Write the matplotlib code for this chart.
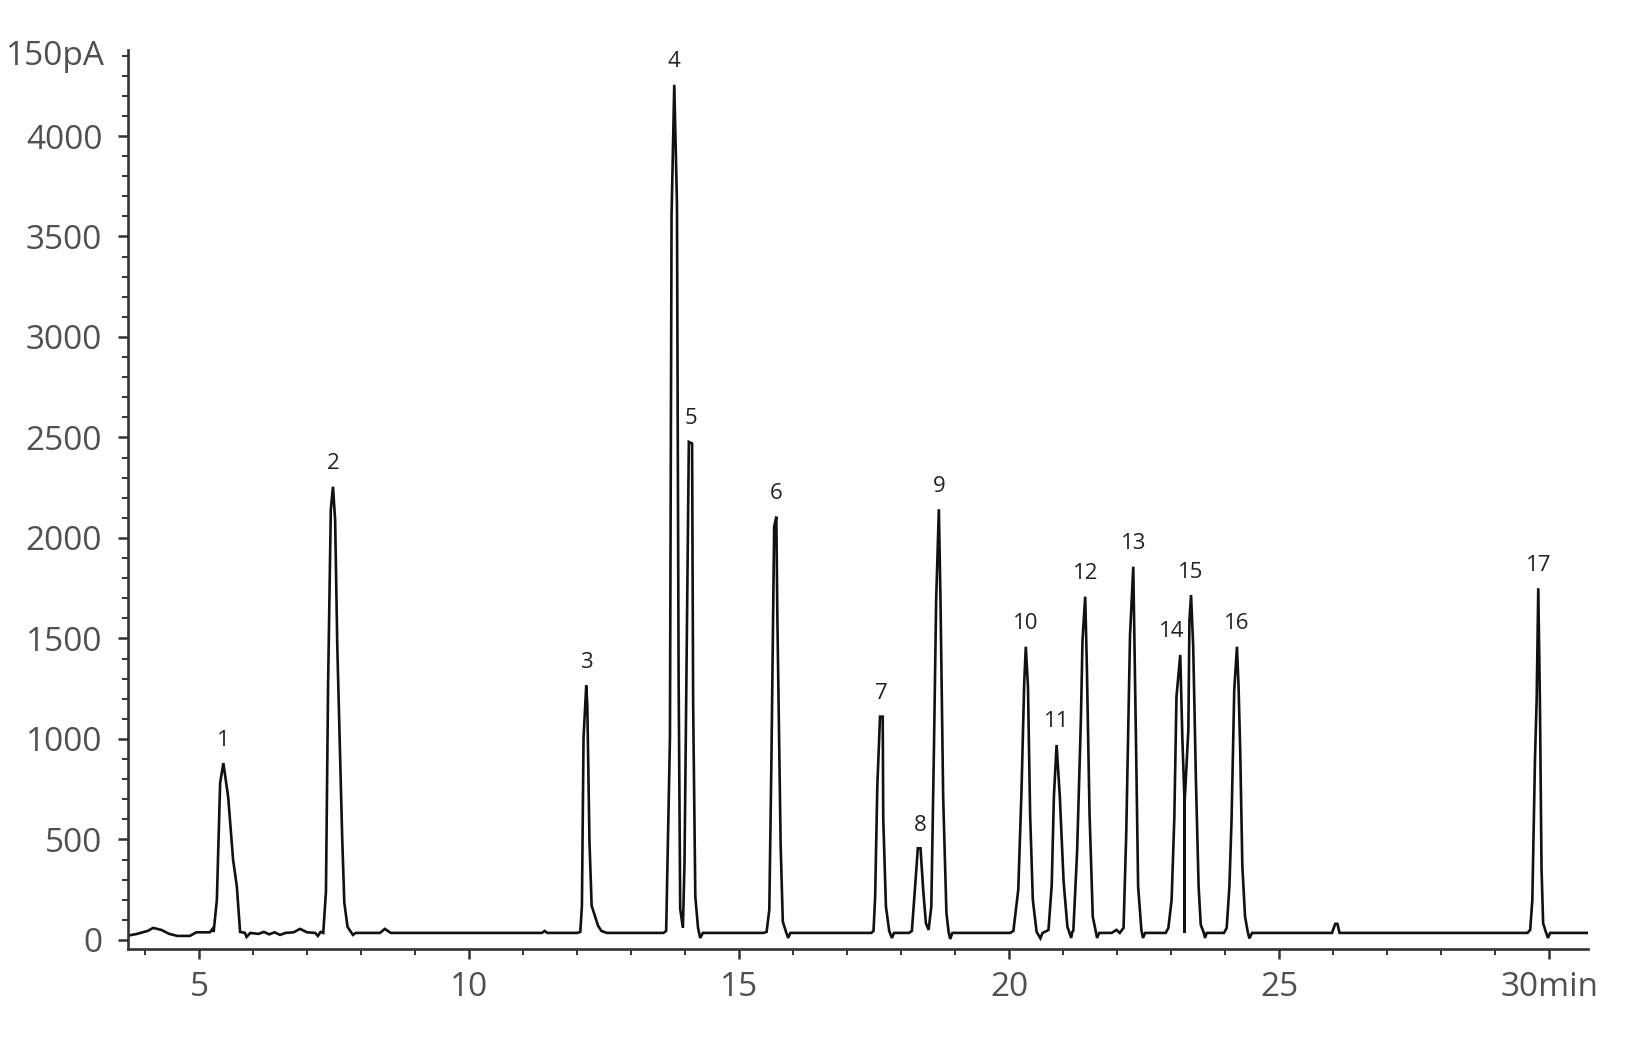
import numpy as np
import matplotlib
matplotlib.use('Agg')
import matplotlib.pyplot as plt
import matplotlib.ticker as ticker

#
# Data
#

# detector trace, time in min and signal in the axis' units
trace_min = [
    3.69, 3.85, 4.05, 4.15, 4.30, 4.45, 4.60, 4.83, 4.95, 5.20, 5.25,
    # peak 1
    5.27, 5.33, 5.39, 5.45, 5.54, 5.63, 5.70, 5.76, 5.85, 5.88, 5.95,
    6.10, 6.20, 6.30, 6.40, 6.50, 6.60, 6.75, 6.87, 7.00, 7.15, 7.20, 7.25,
    # peak 2
    7.30, 7.35, 7.39, 7.44, 7.48, 7.52, 7.56, 7.61, 7.65, 7.69, 7.75, 7.80, 7.85, 7.90,
    8.35, 8.44, 8.55, 11.35, 11.40, 11.45, 12.00,
    # peak 3
    12.06, 12.09, 12.12, 12.17, 12.19, 12.23, 12.27, 12.39, 12.45, 12.55, 13.60,
    # peaks 4 and 5
    13.65, 13.72, 13.75, 13.80, 13.85, 13.88, 13.91, 13.96, 13.99, 14.03, 14.07,
    14.13, 14.15, 14.19, 14.24, 14.28, 14.33, 15.45,
    # peak 6
    15.51, 15.56, 15.60, 15.65, 15.69, 15.71, 15.77, 15.81, 15.87, 15.91, 15.95, 17.45,
    # peak 7
    17.49, 17.52, 17.56, 17.61, 17.66, 17.67, 17.72, 17.78, 17.83, 17.87, 18.15,
    # peaks 8 and 9
    18.20, 18.26, 18.31, 18.36, 18.41, 18.46, 18.51, 18.56, 18.61, 18.65, 18.70,
    18.73, 18.78, 18.84, 18.88, 18.91, 18.95, 20.02,
    # peaks 10, 11, 12
    20.08, 20.17, 20.23, 20.28, 20.31, 20.35, 20.39, 20.44, 20.51, 20.58, 20.62, 20.70,
    20.73, 20.79, 20.83, 20.88, 20.94, 21.01, 21.08, 21.15, 21.17,
    21.19, 21.26, 21.33, 21.36, 21.41, 21.44, 21.49, 21.55, 21.60, 21.63, 21.67,
    21.90, 21.99, 22.05,
    # peak 13
    22.12, 22.17, 22.24, 22.30, 22.35, 22.39, 22.45, 22.48, 22.52, 22.90,
    # peaks 14 and 15
    22.95, 23.01, 23.06, 23.10, 23.17, 23.21, 23.25, 23.25, 23.25, 23.32, 23.34,
    23.37, 23.41, 23.46, 23.51, 23.55, 23.60, 23.63, 23.66, 23.98,
    # peak 16
    24.03, 24.08, 24.12, 24.17, 24.22, 24.25, 24.28, 24.32, 24.37, 24.42, 24.45, 24.50,
    25.98, 26.04, 26.08, 26.12, 29.60,
    # peak 17
    29.65, 29.69, 29.74, 29.77, 29.80, 29.83, 29.86, 29.89, 29.94, 29.98, 30.02, 30.72,
]
trace_pa = [
    22, 30, 45, 60, 50, 30, 20, 20, 38, 38, 55,
    40, 200, 780, 880, 710, 400, 265, 40, 35, 15, 35,
    30, 40, 28, 38, 25, 35, 38, 55, 38, 35, 20, 40,
    35, 240, 1280, 2140, 2255, 2090, 1460, 945, 515, 185, 65, 45, 25, 35,
    35, 55, 35, 35, 45, 35, 35,
    40, 170, 1005, 1266, 1165, 488, 170, 70, 45, 35, 35,
    45, 1005, 3605, 4255, 3663, 1338, 155, 60, 385, 1450, 2478,
    2470, 1165, 215, 60, 10, 35, 35,
    40, 150, 912, 2056, 2106, 1592, 473, 91, 40, 10, 35, 35,
    45, 215, 763, 1111, 1111, 605, 166, 45, 10, 35, 35,
    45, 265, 456, 456, 249, 83, 50, 166, 970, 1692, 2143,
    1692, 705, 134, 40, 5, 35, 35,
    45, 249, 738, 1277, 1459, 1260, 622, 199, 40, 8, 35, 45,
    50, 274, 713, 970, 713, 290, 66, 10, 40,
    45, 439, 1095, 1493, 1708, 1368, 630, 116, 50, 10, 35,
    35, 50, 35,
    60, 531, 1517, 1857, 995, 265, 50, 10, 35, 35,
    60, 199, 605, 1210, 1418, 995, 680, 35, 680, 1045, 1592,
    1716, 1459, 796, 265, 75, 40, 10, 35, 35,
    60, 265, 597, 1244, 1459, 1260, 945, 365, 116, 40, 8, 35,
    35, 80, 80, 35, 35,
    50, 199, 912, 1194, 1750, 1194, 357, 83, 40, 10, 35, 35,
]

# numbered peaks and their retention times (min)
peak_numbers = list(range(1, 18))
peak_times = [5.45, 7.48, 12.17, 13.80, 14.10, 15.69, 17.635, 18.36, 18.70,
              20.31, 20.88, 21.41, 22.30, 23.17, 23.37, 24.22, 29.80]

x_ticks = [5, 10, 15, 20, 25, 30]
x_tick_labels = ['5', '10', '15', '20', '25', '30min']
y_ticks = [0, 500, 1000, 1500, 2000, 2500, 3000, 3500, 4000]
y_top_label = '150pA'
y_top_value = 4394

#
# Graph
#

plt.rcParams['font.family'] = ['Open Sans', 'DejaVu Sans']

fig = plt.figure(figsize=(16.5, 10.5), dpi=100)
ax = fig.add_axes([0.0776, 0.0962, 0.8848, 0.8562])

ax.plot(trace_min, trace_pa, color='#111111', linewidth=1.9, solid_joinstyle='miter')

ax.set_xlim(3.685, 30.72)
ax.set_ylim(-45, 4428)

for side in ['top', 'right']:
    ax.spines[side].set_visible(False)
for side in ['left', 'bottom']:
    ax.spines[side].set_linewidth(1.9)
    ax.spines[side].set_color('#333333')

ax.set_xticks(x_ticks)
ax.set_xticklabels(x_tick_labels)
ax.set_yticks(y_ticks)
ax.xaxis.set_minor_locator(ticker.MultipleLocator(1))
ax.yaxis.set_minor_locator(ticker.MultipleLocator(100))

ax.tick_params(which='major', direction='out', length=7.5, width=1.8,
               color='#333333', labelsize=24, labelcolor='#505050')
ax.tick_params(which='minor', direction='out', length=4, width=1.4, color='#333333')
ax.tick_params(axis='y', which='major', pad=11)
ax.tick_params(axis='x', which='major', pad=8)

# unit label at the top of the y axis
ax.annotate(y_top_label, xy=(0, y_top_value), xycoords=('axes fraction', 'data'),
            xytext=(-23, 0), textcoords='offset pixels',
            ha='right', va='center', fontsize=24, color='#505050')

# peak numbers above the apexes
nudge = {14: -9}
for n, t in zip(peak_numbers, peak_times):
    h = np.interp(t, trace_min, trace_pa)
    window = [v for tm, v in zip(trace_min, trace_pa) if abs(tm - t) < 0.04]
    if window:
        h = max(window)
    ax.annotate(str(n), xy=(t, h), xytext=(nudge.get(n, 0), 23),
                textcoords='offset pixels', ha='center', va='center',
                fontsize=16, color='#222222')

fig.savefig('out.png', dpi=100)
